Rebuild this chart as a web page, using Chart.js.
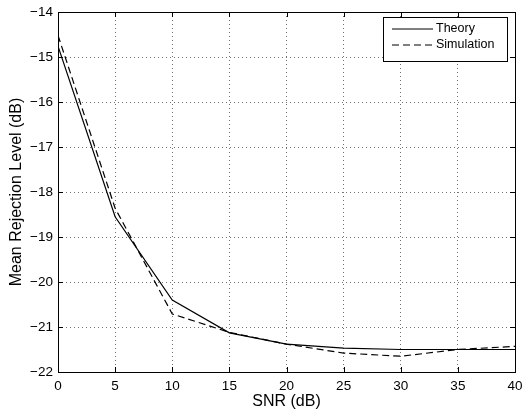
<!DOCTYPE html>
<html>
<head>
<meta charset="utf-8">
<script src="https://cdn.jsdelivr.net/npm/chart.js@4.4.0/dist/chart.umd.min.js"></script>
<style>
  html, body { margin: 0; padding: 0; background: #fff; }
  #wrap { width: 523px; height: 414px; }
</style>
</head>
<body>
<div id="wrap"><canvas id="chart"></canvas></div>
<script>
// Données
const snr = [0, 5, 10, 15, 20, 25, 30, 35, 40];
const theory = [-14.76, -18.55, -20.4, -21.13, -21.38, -21.47, -21.5, -21.5, -21.5];
const simulation = [-14.52, -18.36, -20.71, -21.12, -21.38, -21.58, -21.65, -21.5, -21.43];

const fontFamily = "'Liberation Sans', Arial, Helvetica, sans-serif";
Chart.defaults.font.family = fontFamily;
Chart.defaults.color = '#000';

function toPoints(ys) {
    return snr.map((x, i) => ({ x: x, y: ys[i] }));
}

// signe moins typographique comme dans Matlab
function minusLabel(value) {
    return String(value).replace('-', '\u2212');
}

// Cadre, graduations internes et légende façon Matlab
const matlabBox = {
    id: 'matlabBox',
    afterDraw(chart) {
        const { ctx, chartArea: a, scales } = chart;
        ctx.save();
        ctx.strokeStyle = '#000';
        ctx.lineWidth = 1;
        ctx.setLineDash([]);
        ctx.strokeRect(Math.round(a.left) + 0.5, Math.round(a.top) + 0.5,
            Math.round(a.right - a.left), Math.round(a.bottom - a.top));

        const tl = 5;
        ctx.beginPath();
        scales.x.ticks.forEach(t => {
            const px = Math.round(scales.x.getPixelForValue(t.value)) + 0.5;
            ctx.moveTo(px, a.bottom); ctx.lineTo(px, a.bottom - tl);
            ctx.moveTo(px, a.top); ctx.lineTo(px, a.top + tl);
        });
        scales.y.ticks.forEach(t => {
            const py = Math.round(scales.y.getPixelForValue(t.value)) + 0.5;
            ctx.moveTo(a.left, py); ctx.lineTo(a.left + tl, py);
            ctx.moveTo(a.right, py); ctx.lineTo(a.right - tl, py);
        });
        ctx.stroke();

        // légende
        const bx = 383, by = 17, bw = 124, bh = 44;
        ctx.fillStyle = '#fff';
        ctx.fillRect(bx, by, bw, bh);
        ctx.strokeRect(bx + 0.5, by + 0.5, bw, bh);
        ctx.font = '12.5px ' + fontFamily;
        ctx.textBaseline = 'middle';
        chart.data.datasets.forEach((ds, i) => {
            const ly = by + 12 + i * 16;
            ctx.strokeStyle = '#000';
            ctx.lineWidth = 1.2;
            ctx.setLineDash(ds.borderDash || []);
            ctx.beginPath();
            ctx.moveTo(bx + 9, ly); ctx.lineTo(bx + 50, ly);
            ctx.stroke();
            ctx.setLineDash([]);
            ctx.fillStyle = '#000';
            ctx.fillText(ds.label, bx + 53, ly);
        });
        ctx.restore();
    }
};

new Chart(document.getElementById('chart'), {
    type: 'line',
    data: {
        datasets: [{
            label: 'Theory',
            data: toPoints(theory),
            borderColor: '#000',
            borderWidth: 1.2,
            pointRadius: 0,
            tension: 0
        }, {
            label: 'Simulation',
            data: toPoints(simulation),
            borderColor: '#000',
            borderWidth: 1.2,
            borderDash: [7, 4],
            pointRadius: 0,
            tension: 0
        }]
    },
    options: {
        responsive: true,
        maintainAspectRatio: false,
        animation: false,
        layout: { padding: { top: 12, right: 8, left: 0, bottom: 0 } },
        plugins: {
            legend: { display: false },
            tooltip: { enabled: false }
        },
        scales: {
            x: {
                type: 'linear',
                min: 0,
                max: 40,
                ticks: { stepSize: 5, padding: 6, font: { size: 13.5 }, maxRotation: 0, callback: minusLabel },
                grid: { color: 'rgba(0,0,0,0.55)', drawTicks: false, lineWidth: 1 },
                border: { display: false, dash: [1, 3] },
                title: {
                    display: true,
                    text: 'SNR (dB)',
                    font: { size: 16 },
                    padding: { top: 0, bottom: 3 }
                },
                afterFit(scale) {
                    scale.height = 42;
                    scale.paddingLeft = 0;
                    scale.paddingRight = 0;
                }
            },
            y: {
                min: -22,
                max: -14,
                ticks: { stepSize: 1, padding: 5, font: { size: 13.5 }, callback: minusLabel },
                grid: { color: 'rgba(0,0,0,0.55)', drawTicks: false, lineWidth: 1 },
                border: { display: false, dash: [1, 3] },
                title: {
                    display: true,
                    text: 'Mean Rejection Level (dB)',
                    font: { size: 16 },
                    padding: { top: 7, bottom: 0 }
                },
                afterFit(scale) {
                    scale.width = 58;
                    scale.paddingTop = 0;
                    scale.paddingBottom = 0;
                }
            }
        }
    },
    plugins: [matlabBox]
});
</script>
</body>
</html>
